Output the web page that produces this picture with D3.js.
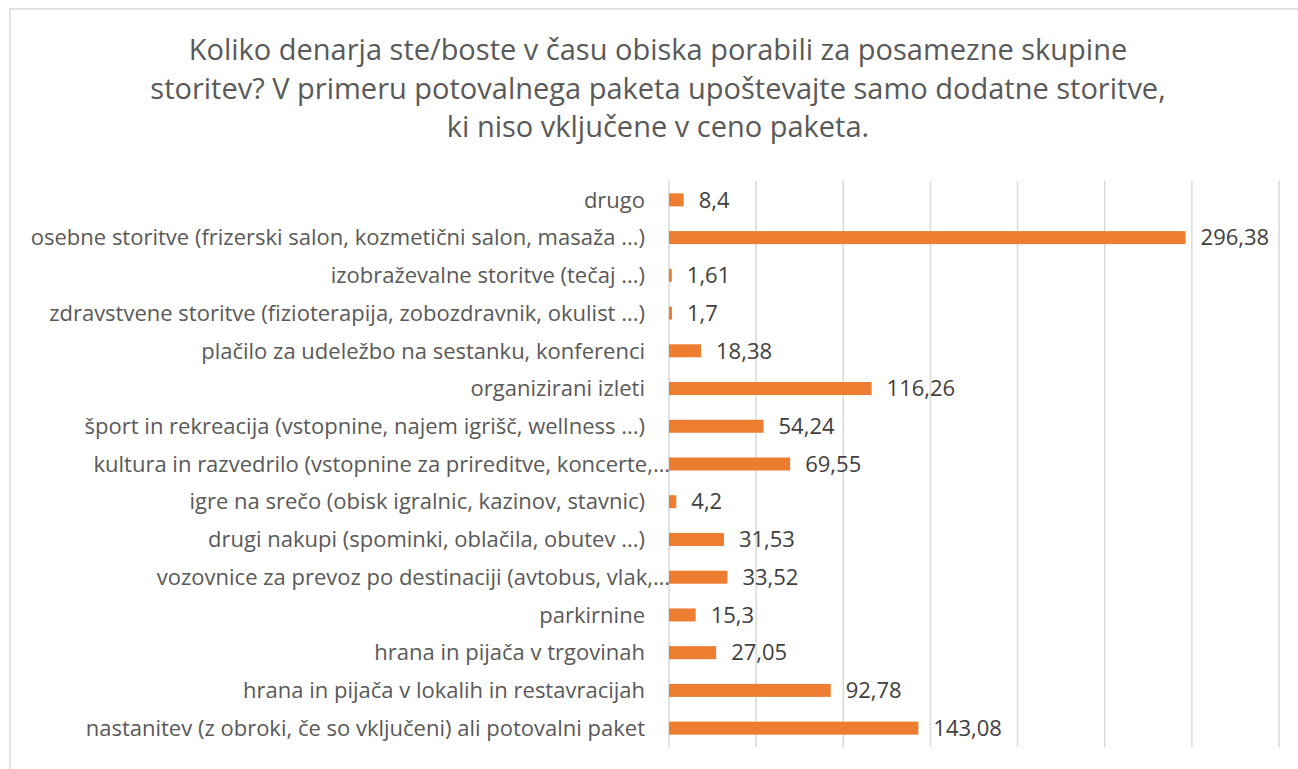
<!DOCTYPE html>
<html>
<head>
<meta charset="utf-8">
<script src="https://cdn.jsdelivr.net/npm/d3@7"></script>
<style>
  body { margin: 0; background: #fff; }
  text { font-family: "Open Sans", sans-serif; }
</style>
</head>
<body>
<div id="chart"></div>
<script>
// data, top to bottom as in the chart
const categories = [
  "drugo",
  "osebne storitve (frizerski salon, kozmetični salon, masaža ...)",
  "izobraževalne storitve (tečaj ...)",
  "zdravstvene storitve (fizioterapija, zobozdravnik, okulist ...)",
  "plačilo za udeležbo na sestanku, konferenci",
  "organizirani izleti",
  "šport in rekreacija (vstopnine, najem igrišč, wellness ...)",
  "kultura in razvedrilo (vstopnine za prireditve, koncerte,…",
  "igre na srečo (obisk igralnic, kazinov, stavnic)",
  "drugi nakupi (spominki, oblačila, obutev ...)",
  "vozovnice za prevoz po destinaciji (avtobus, vlak,…",
  "parkirnine",
  "hrana in pijača v trgovinah",
  "hrana in pijača v lokalih in restavracijah",
  "nastanitev (z obroki, če so vključeni) ali potovalni paket"
];
const values = [8.4, 296.38, 1.61, 1.7, 18.38, 116.26, 54.24, 69.55, 4.2, 31.53, 33.52, 15.3, 27.05, 92.78, 143.08];
const xTicks = [0, 50, 100, 150, 200, 250, 300, 350];
const titleLines = [
  "Koliko denarja ste/boste v času obiska porabili za posamezne skupine",
  "storitev? V primeru potovalnega paketa upoštevajte samo dodatne storitve,",
  "ki niso vključene v ceno paketa."
];

const width = 1298;
const height = 769;
const data = categories.map((c, i) => ({ cat: c, val: values[i] }));

const svg = d3.select("#chart")
  .append("svg")
  .attr("width", width)
  .attr("height", height);

// chart frame (runs off the right and bottom edge)
svg.append("rect")
  .attr("x", 10)
  .attr("y", 9)
  .attr("width", 1296)
  .attr("height", 780)
  .attr("fill", "#fff")
  .attr("stroke", "#d9d9d9")
  .attr("stroke-width", 1.5);

// title
svg.append("text")
  .attr("x", 658)
  .attr("y", 60)
  .attr("text-anchor", "middle")
  .attr("font-size", "29px")
  .attr("fill", "#595959")
  .selectAll("tspan")
  .data(titleLines)
  .enter()
  .append("tspan")
  .attr("x", 658)
  .attr("dy", (d, i) => i === 0 ? 0 : 38.5)
  .text(d => d);

// scales
const x = d3.scaleLinear()
  .domain([0, 350])
  .range([669, 1279]);

const y = d3.scaleBand()
  .domain(categories)
  .range([181, 747])
  .paddingInner(0.655)
  .paddingOuter(0.3275);

// gridlines
svg.append("g")
  .selectAll("line")
  .data(xTicks)
  .enter()
  .append("line")
  .attr("x1", d => x(d))
  .attr("x2", d => x(d))
  .attr("y1", 181)
  .attr("y2", 747)
  .attr("stroke", "#d9d9d9")
  .attr("stroke-width", 1.5);

// bars
svg.append("g")
  .selectAll("rect")
  .data(data)
  .enter()
  .append("rect")
  .attr("x", x(0))
  .attr("y", d => y(d.cat))
  .attr("width", d => x(d.val) - x(0))
  .attr("height", y.bandwidth())
  .attr("fill", "#ed7d31");

// value labels
svg.append("g")
  .selectAll("text")
  .data(data)
  .enter()
  .append("text")
  .attr("x", d => x(d.val) + 15)
  .attr("y", d => y(d.cat) + y.bandwidth() / 2)
  .attr("dy", "0.35em")
  .attr("font-size", "22px")
  .attr("fill", "#404040")
  .text(d => String(d.val).replace(".", ","));

// category labels (truncated ones run up to the axis)
svg.append("g")
  .selectAll("text")
  .data(data)
  .enter()
  .append("text")
  .attr("x", d => d.cat.endsWith("…") ? 670 : 645)
  .attr("y", d => y(d.cat) + y.bandwidth() / 2)
  .attr("dy", "0.35em")
  .attr("text-anchor", "end")
  .attr("font-size", "22px")
  .attr("fill", "#595959")
  .text(d => d.cat);
</script>
</body>
</html>
